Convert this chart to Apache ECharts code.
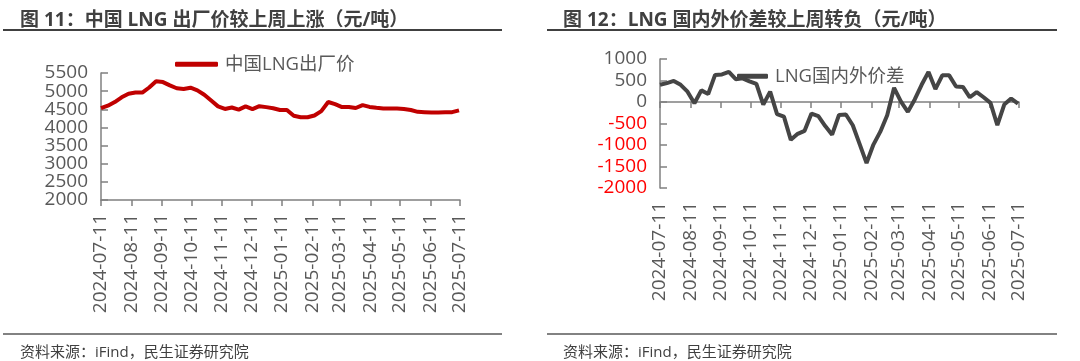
<!DOCTYPE html>
<html>
<head>
<meta charset="utf-8">
<script src="https://cdn.jsdelivr.net/npm/echarts@6/dist/echarts.min.js"></script>
<style>
html,body{margin:0;padding:0;background:#fff;}
#c{width:1080px;height:361px;}
</style>
</head>
<body>
<div id="c"></div>
<script>
// ---- data ----
var dates = [
 '2024-07-11','2024-07-18','2024-07-25','2024-08-01','2024-08-08','2024-08-15','2024-08-22','2024-08-29',
 '2024-09-05','2024-09-12','2024-09-19','2024-09-26','2024-10-03','2024-10-10','2024-10-17','2024-10-24',
 '2024-10-31','2024-11-07','2024-11-14','2024-11-21','2024-11-28','2024-12-05','2024-12-12','2024-12-19',
 '2024-12-26','2025-01-02','2025-01-09','2025-01-16','2025-01-23','2025-01-30','2025-02-06','2025-02-13',
 '2025-02-20','2025-02-27','2025-03-06','2025-03-13','2025-03-20','2025-03-27','2025-04-03','2025-04-10',
 '2025-04-17','2025-04-24','2025-05-01','2025-05-08','2025-05-15','2025-05-22','2025-05-29','2025-06-05',
 '2025-06-12','2025-06-19','2025-06-26','2025-07-03','2025-07-10'
];
var lngPrice = [
 4530,4600,4700,4830,4930,4960,4960,5100,5270,5250,5160,5080,5060,5095,5020,4900,
 4740,4580,4510,4550,4490,4580,4505,4585,4560,4530,4480,4480,4320,4280,4280,4330,
 4450,4700,4640,4560,4565,4535,4615,4565,4540,4520,4520,4520,4510,4480,4430,4420,
 4410,4410,4415,4420,4470
];
var lngSpread = [
 400,440,490,400,240,-30,270,185,630,640,700,530,550,480,420,-60,
 240,-280,-340,-880,-740,-670,-270,-330,-560,-760,-300,-290,-540,-980,-1420,-990,
 -690,-310,330,10,-230,60,400,700,300,620,620,360,350,110,230,110,
 -20,-540,-60,80,-40
];
var tickDates = ['2024-07-11','2024-08-11','2024-09-11','2024-10-11','2024-11-11','2024-12-11',
 '2025-01-11','2025-02-11','2025-03-11','2025-04-11','2025-05-11','2025-06-11','2025-07-11'];
var priceTicks  = [2000, 2500, 3000, 3500, 4000, 4500, 5000, 5500];
var priceTicksA = [2000, 3000, 4000, 5000];
var priceTicksB = [2500, 3500, 4500, 5500];
var title1 = '图 11：中国 LNG 出厂价较上周上涨（元/吨）';
var title2 = '图 12：LNG 国内外价差较上周转负（元/吨）';
var source = '资料来源：iFind，民生证券研究院';
var name1 = '中国LNG出厂价';
var name2 = 'LNG国内外价差';

// ---- helpers ----
var DAY = 86400000;
function dayNum(s){ var p = s.split('-'); return Math.round(Date.UTC(+p[0], +p[1]-1, +p[2]) / DAY); }
function pad(n){ return (n<10?'0':'')+n; }
function fmt(v){ var d=new Date(Math.round(v)*DAY); return d.getUTCFullYear()+'-'+pad(d.getUTCMonth()+1)+'-'+pad(d.getUTCDate()); }
var tickVals = tickDates.map(dayNum);
var xMin = tickVals[0], xMax = tickVals[tickVals.length-1];
function pairs(vals){ return dates.map(function(d,i){ return [dayNum(d), vals[i]]; }); }

var FONT = '"Open Sans","Noto Sans CJK SC",sans-serif';
var LBL = '#595959', AX = '#808080';

var chart = echarts.init(document.getElementById('c'), null, {renderer:'canvas'});

function xAxisBase(grid){
  return {
    type:'value', gridIndex:grid, position:'bottom', min:xMin, max:xMax, scale:true,
    splitLine:{show:false},
    axisLine:{show:true, lineStyle:{color:AX, width:1.5}},
    axisTick:{show:true, length:6, inside:false, customValues:tickVals, lineStyle:{color:AX, width:1.5}},
    axisLabel:{show:true, rotate:90, margin:14, fontSize:19, color:LBL, fontFamily:FONT,
      customValues:tickVals, formatter:function(v){return fmt(v);}, hideOverlap:false}
  };
}

var xa0 = xAxisBase(0);
var xa1 = xAxisBase(1);
xa1.axisLabel = {show:false};
var xa2 = xAxisBase(1);
xa2.axisLine = {show:false, onZero:false};
xa2.axisTick = {show:false};

function yLabel(custom){
  var o = {margin:13, showMinLabel:true, showMaxLabel:true, hideOverlap:false,
    formatter:function(v){ return (v < 0 ? '{n|' : '{p|') + v + '}'; },
    rich:{
      p:{fontSize:19, color:LBL, fontFamily:FONT},
      n:{fontSize:19, color:'#FF0000', fontFamily:FONT}
    }};
  if (custom) o.customValues = custom;
  return o;
}

var option = {
  animation:false,
  textStyle:{fontFamily:FONT},
  title:[
    {text:title1, left:15, top:6, textStyle:{fontSize:19, fontWeight:'bold', color:'#404040', fontFamily:FONT}},
    {text:title2, left:558, top:6, textStyle:{fontSize:19, fontWeight:'bold', color:'#404040', fontFamily:FONT}},
    {text:source, left:15, top:340, textStyle:{fontSize:15, fontWeight:'normal', color:'#404040', fontFamily:FONT}},
    {text:source, left:558, top:340, textStyle:{fontSize:15, fontWeight:'normal', color:'#404040', fontFamily:FONT}}
  ],
  graphic:[
    {type:'line', shape:{x1:3,y1:30,x2:502,y2:30}, style:{stroke:'#404040', lineWidth:2}},
    {type:'line', shape:{x1:547,y1:30,x2:1057,y2:30}, style:{stroke:'#404040', lineWidth:2}},
    {type:'line', shape:{x1:3,y1:334,x2:502,y2:334}, style:{stroke:'#595959', lineWidth:1.5}},
    {type:'line', shape:{x1:547,y1:334,x2:1057,y2:334}, style:{stroke:'#595959', lineWidth:1.5}}
  ],
  legend:[
    {data:[name1], left:170, top:50, itemWidth:43, itemHeight:5, icon:'roundRect', itemGap:5,
      textStyle:{fontSize:18.5, color:LBL, fontFamily:FONT, padding:[0,0,0,2]}},
    {data:[name2], left:732, top:62, itemWidth:31, itemHeight:5, icon:'roundRect', itemGap:5,
      textStyle:{fontSize:18.5, color:LBL, fontFamily:FONT, padding:[0,0,0,2]}}
  ],
  grid:[
    {left:101, top:73, width:359, height:127, containLabel:false, outerBoundsMode:'none'},
    {left:660, top:59, width:359, height:129, containLabel:false, outerBoundsMode:'none'}
  ],
  xAxis:[xa0, xa1, xa2],
  yAxis:[
    {type:'value', gridIndex:0, position:'left', min:2000, max:5500, interval:500,
      splitLine:{show:false},
      axisLine:{show:true, lineStyle:{color:AX, width:1.5}},
      axisTick:{show:true, inside:true, length:7, customValues:priceTicks, lineStyle:{color:AX, width:1.5}},
      axisLabel:yLabel(priceTicksA)},
    {type:'value', gridIndex:1, position:'left', min:-2000, max:1000, interval:500,
      splitLine:{show:false},
      axisLine:{show:true, lineStyle:{color:AX, width:1.5}},
      axisTick:{show:true, inside:true, length:7, lineStyle:{color:AX, width:1.5}},
      axisLabel:yLabel(null)},
    {type:'value', gridIndex:0, position:'left', offset:0, min:2000, max:5500, interval:500,
      splitLine:{show:false},
      axisLine:{show:false},
      axisTick:{show:false},
      axisLabel:yLabel(priceTicksB)}
  ],
  series:[
    {name:name1, type:'line', xAxisIndex:0, yAxisIndex:0, data:pairs(lngPrice),
      showSymbol:false, symbol:'none', lineStyle:{color:'#C00000', width:4}, itemStyle:{color:'#C00000'}},
    {name:name2, type:'line', xAxisIndex:1, yAxisIndex:1, data:pairs(lngSpread),
      showSymbol:false, symbol:'none', lineStyle:{color:'#454545', width:4}, itemStyle:{color:'#454545'}}
  ]
};
chart.setOption(option);
</script>
</body>
</html>
